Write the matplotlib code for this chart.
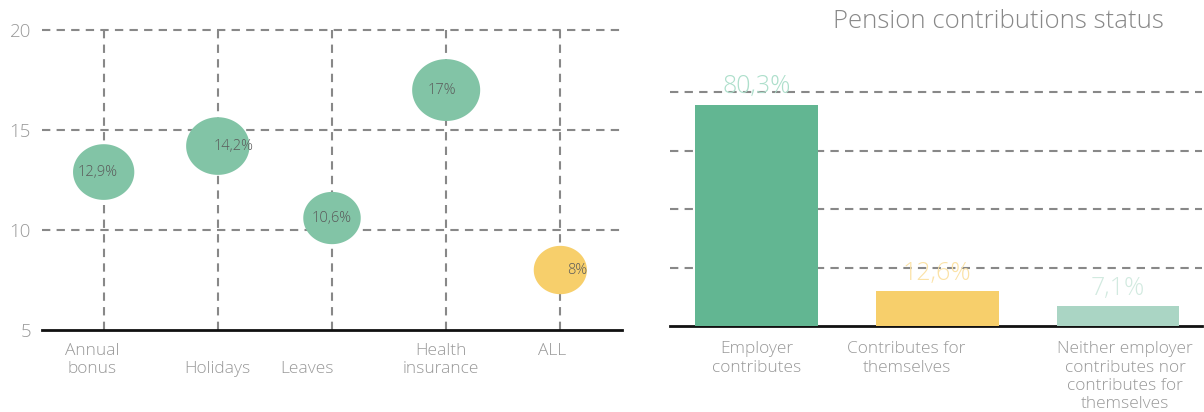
import matplotlib
matplotlib.use("Agg")
import matplotlib.pyplot as plt
import numpy as np
from matplotlib.path import Path

plt.rcParams['font.family'] = ['Open Sans', 'DejaVu Sans']
plt.rcParams['font.weight'] = 'light'

# left chart data
benefits = ["Annual\nbonus", "\nHolidays", "\nLeaves", "Health\ninsurance", "ALL"]
benefit_vals = [12.9, 14.2, 10.6, 17.0, 8.0]
benefit_labels = ["12,9%", "14,2%", "10,6%", "17%", "8%"]

# right chart data
pension_cats = ["Employer\ncontributes", "Contributes for\nthemselves",
                "Neither employer\ncontributes nor\ncontributes for\nthemselves"]
pension_vals = [80.3, 12.6, 7.1]
pension_labels = ["80,3%", "12,6%", "7,1%"]

green = "#82c4a6"
yellow = "#f7cf6b"
grid_c = "#888888"
tick_c = "#999999"

fig = plt.figure(figsize=(12.04, 4.12), dpi=100)

# ---- left: bubbles
ax1 = fig.add_axes([0.0349, 0.199, 0.4817, 0.728])
x = np.arange(len(benefit_vals))
t = np.linspace(0, 2 * np.pi, 100)
ell = Path(np.column_stack([1.1 * np.cos(t), np.sin(t)]), closed=True)
widths = [40 + 1.65 * v for v in benefit_vals]  # px
sizes = [(w * 0.72) ** 2 for w in widths]
cols = [green, green, green, green, yellow]
for i in range(len(x)):
    ax1.plot([x[i], x[i]], [5, 20], ls=(0, (4, 3)), color=grid_c, lw=1.5, zorder=1, clip_on=False)
for yy in [10, 15, 20]:
    ax1.axhline(yy, ls=(0, (4, 3)), color=grid_c, lw=1.5, zorder=1, clip_on=False)
ax1.scatter(x, benefit_vals, s=sizes, c=cols, marker=ell, edgecolors='none', zorder=3)
lab_dx = [-4, 11, 0, -3, 12]
for i, (v, l) in enumerate(zip(benefit_vals, benefit_labels)):
    ax1.annotate(l, (x[i], v), xytext=(lab_dx[i], 0), textcoords='offset points',
                 ha='center', va='center', fontsize=10.5, color='#5a5a5a', zorder=4)
ax1.set_xlim(-0.54, 4.54)
ax1.set_ylim(5, 20)
ax1.set_yticks([5, 10, 15, 20])
ax1.set_xticks([])
ax1.tick_params(axis='y', length=0, pad=8, labelsize=13.5, labelcolor=tick_c)
for s in ['top', 'right', 'left']:
    ax1.spines[s].set_visible(False)
ax1.spines['bottom'].set_linewidth(2)
ax1.spines['bottom'].set_color('#111111')
xl_dx = [-0.1, 0.0, -0.22, -0.05, -0.07]
for i, l in enumerate(benefits):
    ax1.text(x[i] + xl_dx[i], 4.35, l, ha='center', va='top', fontsize=12.5,
             color=tick_c, linespacing=1.2)

# ---- right: bars
ax2 = fig.add_axes([0.5565, 0.2087, 0.4418, 0.568])
xb = np.arange(len(pension_vals))
bar_cols = ["#62b692", yellow, "#aad5c4"]
lab_cols = ["#addfcb", "#fbe2a6", "#d2eae0"]
ax2.bar(xb, pension_vals, width=0.68, color=bar_cols, zorder=3)
ymax = 85
ax2.set_ylim(0, ymax)
ax2.set_xlim(-0.48, 2.465)
ax2.set_yticks(np.linspace(0, ymax, 5)[1:])
ax2.yaxis.grid(True, ls=(0, (4, 3)), color=grid_c, lw=1.5, zorder=1)
for gl in ax2.yaxis.get_gridlines():
    gl.set_clip_on(False)
ax2.tick_params(axis='y', length=0, labelleft=False)
ax2.set_xticks([])
for s in ['top', 'right', 'left']:
    ax2.spines[s].set_visible(False)
ax2.spines['bottom'].set_linewidth(2)
ax2.spines['bottom'].set_color('#111111')
for i, (v, l) in enumerate(zip(pension_vals, pension_labels)):
    ax2.annotate(l, (xb[i], v), xytext=(0, 4), textcoords='offset points',
                 ha='center', va='bottom', fontsize=18, color=lab_cols[i], zorder=4)
pl_dx = [0.0, -0.17, 0.04]
for i, l in enumerate(pension_cats):
    ax2.text(xb[i] + pl_dx[i], -5.5, l, ha='center', va='top', fontsize=12.5,
             color=tick_c, linespacing=1.2)
fig.text(0.829, 0.947, "Pension contributions status", ha='center', va='center',
         fontsize=18.5, color='#888888')

fig.savefig("out.png", dpi=100)
